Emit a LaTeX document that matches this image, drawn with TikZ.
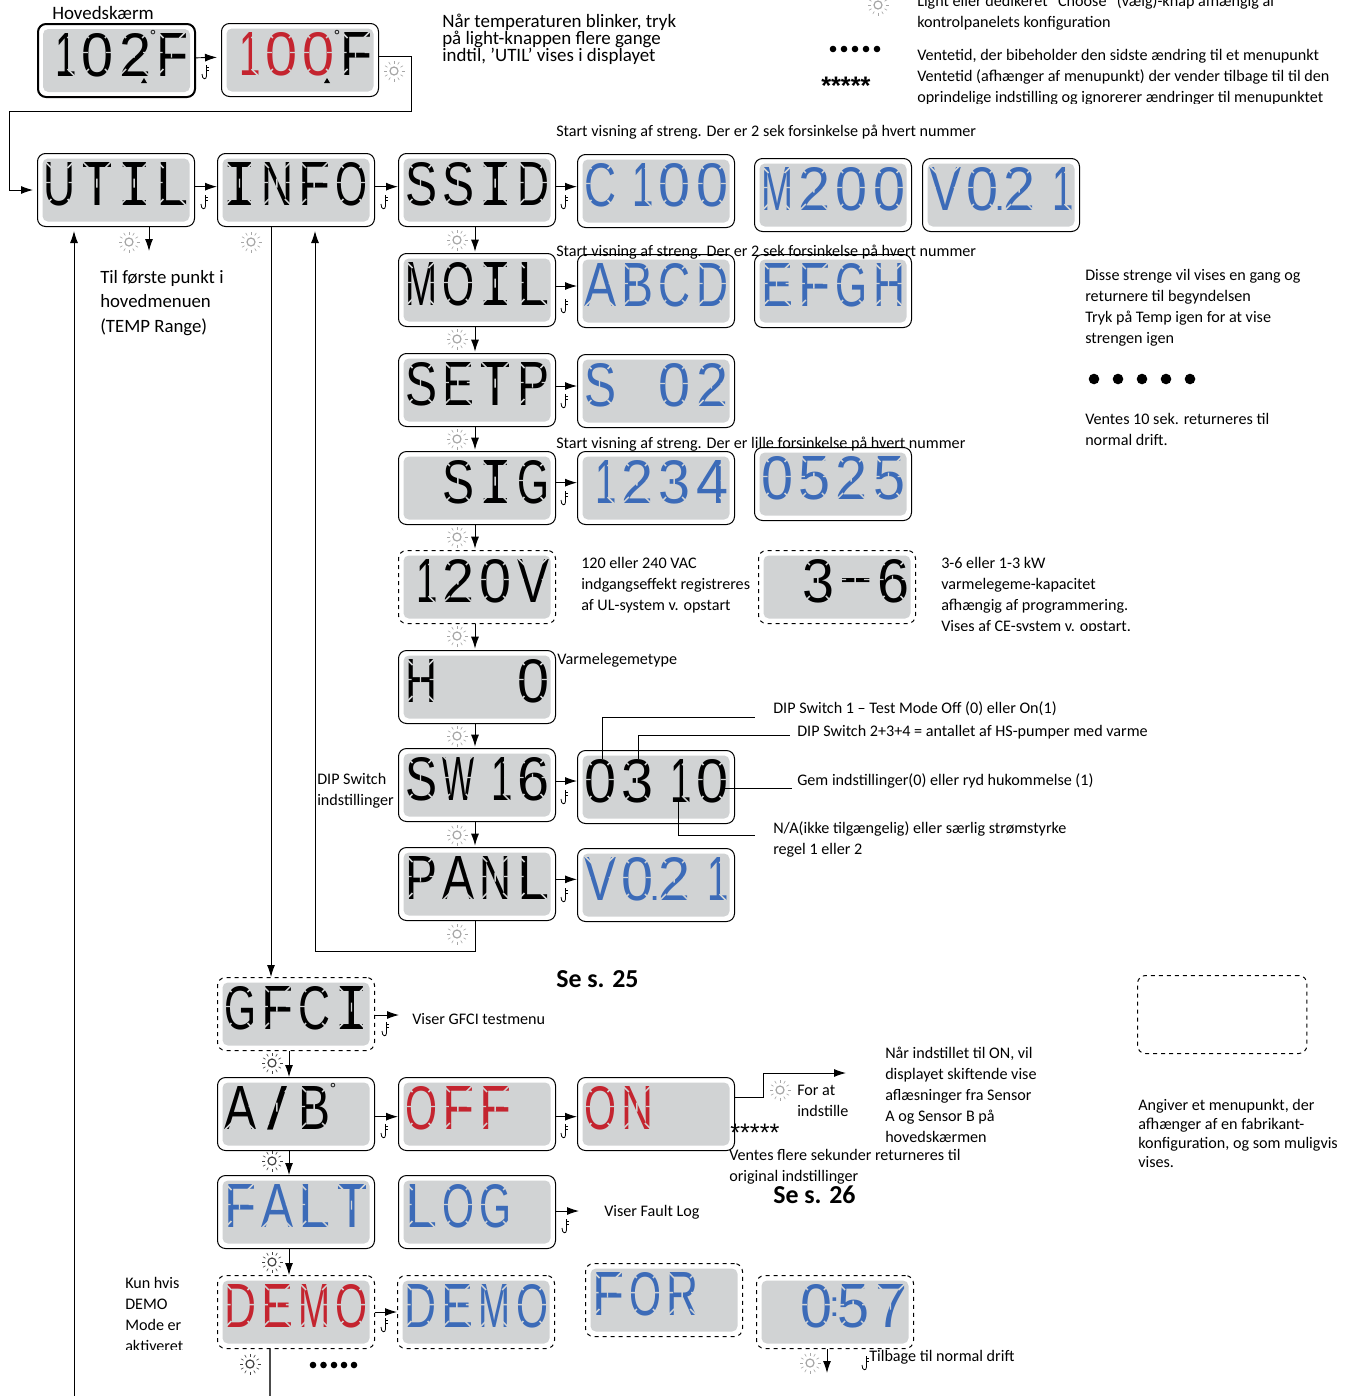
\documentclass[tikz,border=0pt]{standalone}
\usepackage{fontspec}
\setmainfont{Carlito}
\newfontfamily\lcdsans{Liberation Sans}
\newfontfamily\lcdmono{Liberation Mono}
\newfontfamily\starfont{Liberation Sans}[BoldFont={Liberation Sans Bold}]
\usetikzlibrary{arrows.meta}
\definecolor{lcdgrey}{HTML}{D1D3D4}
\definecolor{lcdred}{HTML}{C4242F}
\definecolor{lcdblue}{HTML}{3C6BB8}

% one character of a display
\makeatletter
\newcommand{\lcdcell}[1]{%
	\ifx#1*\kern28pt\else
	\ifx#1.\llap{\resizebox{8pt}{3pt}{\lcdsans.}\kern.5pt}\else
	\ifx#1:\llap{\raisebox{8pt}{\resizebox{8pt}{14pt}{\lcdsans:}}}\else
	\ifx#1I\hbox to21pt{\hss\resizebox{26pt}{32.25pt}{\lcdmono I}\hss}\kern7pt\else
	\ifx#1T\hbox to21pt{\hss\resizebox{24pt}{32.25pt}{\lcdmono T}\hss}\kern7pt\else
	\ifx#11\hbox to21pt{\hss\resizebox{16pt}{32.25pt}{\lcdsans 1}\kern-2pt}\kern7pt\else
	\ifx#1/\hbox to21pt{\hss\resizebox{15pt}{32.25pt}{\lcdsans /}\hss}\kern7pt\else
	\ifx#1-\hbox to21pt{\hss\raisebox{6pt}{\resizebox{28pt}{12pt}{\lcdsans -}}\hss}\kern7pt\else
	\hbox to21pt{\hss\resizebox{24pt}{32.25pt}{\lcdsans #1}\hss}\kern7pt%
	\fi\fi\fi\fi\fi\fi\fi\fi}
\def\lcd@next#1{\ifx#1\relax\else\lcdcell{#1}\expandafter\lcd@next\fi}
\newcommand{\lcdseq}[1]{\lcd@next#1\relax}
\makeatother
\newcommand{\lcdbox}[1]{\hbox to105pt{#1\hss}}
\newcommand{\lcd}[1]{\lcdbox{\lcdseq{#1}}}

% grey cuts that part the strokes of the characters into segments
\newcommand{\lcdcuts}[1]{
	\begin{scope}[shift={(#1.north west)}]
		\foreach \cellx in {8.5,45.83,83.17,120.5}{
			\draw[lcdcut,shift={(\cellx,9)}]
				(-1,-1) -- (6,6) (29,-1) -- (22,6)
				(-1,44) -- (6,37) (29,44) -- (22,37)
				(-1,20.5) -- (5,20.5) (23,20.5) -- (29,20.5)
				(14,16.5) -- (14,25.5);
		}
	\end{scope}
}
\newcommand{\lcdpanel}[4][]{
	\node[panel,#1] (#2) at (#3) {#4};
	\lcdcuts{#2}
}

\tikzset{
	panel/.style={
		draw,
		anchor=north west,
		rounded corners=6pt,
		line width=0.75pt,
		minimum width=117.75pt,
		minimum height=54.75pt,
		inner sep=0pt,
		fill=white,
		text height=32.25pt,
		text depth=9pt,
		path picture={
			\fill[lcdgrey,rounded corners=4pt]
				([shift={(5,-5)}]path picture bounding box.south west) rectangle
				([shift={(-5,5)}]path picture bounding box.north east);
		},
	},
	lcdcut/.style={draw=lcdgrey,line width=1.1pt},
	flow/.style={line width=0.7pt,-{Latex[length=9pt,width=6pt]}},
	wire/.style={line width=0.6pt},
	note/.style={
		anchor=north west,
		align=left,
		inner sep=0pt,
		yshift=-2.2pt,
		font=\fontsize{12.1}{15.75}\selectfont,
	},
	bignote/.style={
		note,
		font=\fontsize{14.2}{18.4}\selectfont,
	},
	headnote/.style={
		note,
		font=\fontsize{19.4}{22}\selectfont\bfseries,
	},
	degnote/.style={
		inner sep=0pt,
		font=\lcdsans\fontsize{12}{12}\selectfont,
	},
	lightbtn/.pic={
		\draw[pic actions,line width=0.9pt] (0,0) circle[radius=4];
		\foreach \a in {0,30,...,330}{
			\draw[pic actions,line width=0.45pt] (\a:7.5) -- (\a:10.5);
		}
	},
	tempbtn/.pic={
		\draw[line width=0.6pt] (0.5,-8) -- (0.5,3) .. controls (0.5,7) and (-4,7) .. (-4,1);
		\draw[line width=0.5pt] (0.5,-6) -- (2.5,-6) (0.5,-3) -- (2.5,-3);
	},
}

\begin{document}
\begin{tikzpicture}[x=0.75pt,y=-0.75pt]
\useasboundingbox (0,0) rectangle (1354,1396);

% main screen
\lcdpanel[line width=1.5pt]{main}{37,23}{\lcd{102F}}
\lcdpanel{setpoint}{221,23}{\lcdbox{\textcolor{lcdred}{\lcdseq{100}}\lcdseq{F}}}

% utility menu
\lcdpanel{util}{37,153}{\lcd{UTIL}}
\lcdpanel{info}{217,153}{\lcd{INFO}}
\lcdpanel{ssid}{398,153}{\lcd{SSID}}
\lcdpanel[text=lcdblue]{cnum}{577,154}{\lcd{C100}}
\lcdpanel[text=lcdblue]{mnum}{754,158}{\lcd{M200}}
\lcdpanel[text=lcdblue]{vnum}{922,158}{\lcd{V0.21}}
\lcdpanel{moil}{398,253}{\lcd{MOIL}}
\lcdpanel[text=lcdblue]{abcd}{577,254}{\lcd{ABCD}}
\lcdpanel[text=lcdblue]{efgh}{754,254}{\lcd{EFGH}}
\lcdpanel{setp}{398,353}{\lcd{SETP}}
\lcdpanel[text=lcdblue]{snum}{577,354}{\lcd{S*02}}
\lcdpanel{sig}{398,451}{\lcd{*SIG}}
\lcdpanel[text=lcdblue]{siga}{577,451}{\lcd{1234}}
\lcdpanel[text=lcdblue]{sigb}{754,447}{\lcd{0525}}
\lcdpanel[dashed]{volt}{398,550}{\lcd{120V}}
\lcdpanel[dashed]{power}{758,550}{\lcd{*3-6}}
\lcdpanel{heater}{398,650}{\lcd{H**0}}
\lcdpanel{sw}{398,748}{\lcd{SW16}}
\lcdpanel{swnum}{577,750}{\lcd{0310}}
\lcdpanel{panl}{398,847}{\lcd{PANL}}
\lcdpanel[text=lcdblue]{panlv}{577,848}{\lcd{V0.21}}

% test menus
\lcdpanel[dashed]{gfci}{217,977}{\lcd{GFCI}}
\lcdpanel{ab}{217,1077}{\lcd{A/B}}
\lcdpanel[text=lcdred]{off}{398,1077}{\lcd{OFF}}
\lcdpanel[text=lcdred]{on}{577,1077}{\lcd{ON}}
\lcdpanel[text=lcdblue]{falt}{217,1175}{\lcd{FALT}}
\lcdpanel[text=lcdblue]{log}{398,1175}{\lcd{LOG}}
\lcdpanel[dashed,text=lcdred]{demo}{217,1275}{\lcd{DEMO}}
\lcdpanel[dashed,text=lcdblue]{demob}{397,1275}{\lcd{DEMO}}
\lcdpanel[dashed,text=lcdblue]{demofor}{585,1263}{\lcd{FOR}}
\lcdpanel[dashed,text=lcdblue]{demotime}{756,1275}{\lcd{*0:57}}
\node[panel,dashed,minimum width=127pt,minimum height=58.5pt,path picture={}] (optional) at (1137,975) {};

% small marks on the displays
\node[degnote] (deg1) at (153,36) {°};
\node[degnote] (deg2) at (337,36) {°};
\node[degnote] (deg3) at (333,1089) {°};
\fill (141,83) -- (147,83) -- (144,78) -- cycle;
\fill (324,83) -- (330,83) -- (327,78) -- cycle;

% free ends
\coordinate (loopa) at (411,111);
\coordinate (loopb) at (9,111);
\coordinate (menuend) at (149,251);
\coordinate (utilback) at (74,1396);
\coordinate (gfciend) at (399,1015);
\coordinate (setbend) at (763,1097);
\coordinate (settop) at (763,1073);
\coordinate (setend) at (846,1073);
\coordinate (logend) at (579,1211);
\coordinate (demodown) at (270,1396);
\coordinate (timeend) at (827,1373);
\coordinate (returnb) at (315,951);
\coordinate (dipa) at (602,759);
\coordinate (dipb) at (755,717);
\coordinate (dipc) at (638,759);
\coordinate (dipd) at (790,735);
\coordinate (dipe) at (723,788);
\coordinate (dipf) at (792,788);
\coordinate (dipg) at (678,798);
\coordinate (diph) at (755,835);

% connectors
\draw[flow] ([yshift=2pt]main.east) -- ([yshift=2pt,xshift=-3pt]setpoint.west);
\draw[flow] ([yshift=3pt]setpoint.east) -| (loopa) -- (loopb) |- ([xshift=-3pt,yshift=0pt]util.west);
\draw[flow] ([yshift=2.5pt]util.east) -- ([yshift=2.5pt]info.west);
\draw[flow] ([yshift=2.5pt]info.east) -- ([yshift=2.5pt]ssid.west);
\draw[flow] ([yshift=2.5pt]ssid.east) -- ([yshift=2.5pt]ssid.east -| cnum.west);
\draw[flow] (util.south -| menuend) -- (menuend);
\draw[flow] (utilback) -- ([yshift=-3pt]util.south -| utilback);
\draw[flow] (info.south -| 271,0) -- (gfci.north -| 271,0);
\draw[flow] (panl.south -| 475,0) |- (returnb) -- ([yshift=-3pt]info.south -| returnb);
\foreach \upper/\lower in {ssid/moil,moil/setp,setp/sig,sig/volt,volt/heater,heater/sw,sw/panl}{
	\draw[flow] (\upper.south -| 475,0) -- ([yshift=1pt]\lower.north -| 475,0);
}
\draw[flow] ([yshift=3pt]moil.east) -- ([yshift=3pt]moil.east -| abcd.west);
\draw[flow] ([yshift=3pt]setp.east) -- ([yshift=3pt]setp.east -| snum.west);
\draw[flow] ([yshift=4pt]sig.east) -- ([yshift=4pt]siga.west);
\draw[flow] ([yshift=3pt]sw.east) -- ([yshift=3pt]sw.east -| swnum.west);
\draw[flow] ([yshift=3.5pt]panl.east) -- ([yshift=3.5pt]panl.east -| panlv.west);
\draw[flow] (gfci.east |- gfciend) -- (gfciend);
\draw[flow] (gfci.south -| 289,0) -- (ab.north -| 289,0);
\draw[flow] (ab.south -| 289,0) -- (falt.north -| 289,0);
\draw[flow] (falt.south -| 289,0) -- (demo.north -| 289,0);
\draw[flow] ([yshift=-2pt]ab.east) -- ([yshift=-2pt]off.west);
\draw[flow] ([yshift=-2pt]off.east) -- ([yshift=-2pt]on.west);
\draw[wire] (on.east |- setbend) -- (setbend) -- (settop);
\draw[flow] (settop) -- (setend);
\draw[flow] (log.east |- logend) -- (logend);
\draw[flow] (demo.east) -- (demob.west);
\draw[wire,line width=0.9pt,black!70] (demo.south -| demodown) -- (demodown);
\draw[flow] (demotime.south -| timeend) -- (timeend);

% lines to the switch texts
\draw[wire] (dipa) |- (dipb);
\draw[wire] (dipc) |- (dipd);
\draw[wire] (dipe) -- (dipf);
\draw[wire] (dipg) |- (diph);

% light and temperature buttons
\foreach \bx/\by in {394/71,129/242,251/242,457/240,457/339,457/439,457/537,457/636,457/736,457/835,457/934,780/1090,810/1363,878/5}{
	\pic[draw=gray!70] at (\bx,\by) {lightbtn};
}
\foreach \bx/\by in {272/1063,272/1161,272/1262,250/1364}{
	\pic[draw=black!75] at (\bx,\by) {lightbtn};
}
\foreach \bx/\by in {206/73,205/203,385/203,565/203,565/307,565/402,565/499,565/798,565/896,386/1030,385/1132,565/1132,566/1227,385/1326,866/1364}{
	\pic at (\bx,\by) {tempbtn};
}

% wait marks
\foreach \dotx in {833,844,855,866,877}{
	\fill (\dotx,49) circle[radius=3.3];
}
\foreach \dotx in {1094,1118,1142,1166,1190}{
	\fill (\dotx,379) circle[radius=5.3];
}
\foreach \dotx in {313,323.5,334,344,354}{
	\fill (\dotx,1365) circle[radius=3.3];
}
\node[note,font=\starfont\bfseries\fontsize{19}{19}\selectfont] (starsa) at (821,74) {*****};
\node[note,font=\starfont\fontsize{19}{19}\selectfont] (starsb) at (730,1121) {*****};

% texts
\node[bignote] (mainlabel) at (52,3) {Hovedskærm};
\node[bignote,font=\fontsize{14.2}{12.8}\selectfont] (blinktext) at (442,11) {Når temperaturen blinker, tryk\\på light-knappen flere gange\\indtil, ’UTIL’ vises i displayet};
\node[note] (legenda) at (917,-9) {Light eller dedikeret “Choose” (vælg)-knap afhængig af\\kontrolpanelets konfiguration};
\node[note] (legendb) at (917,46) {Ventetid, der bibeholder den sidste ændring til et menupunkt\\Ventetid (afhænger af menupunkt) der vender tilbage til  til den\\oprindelige indstilling og ignorerer ændringer til menupunktet};
\node[note] (starta) at (556,122) {Start visning af streng. Der er 2 sek forsinkelse på hvert nummer};
\node[note] (startb) at (556,242) {Start visning af streng. Der er 2 sek forsinkelse på hvert nummer};
\node[note] (startc) at (556,434) {Start visning af streng. Der er lille forsinkelse på hvert nummer};
\node[bignote,font=\fontsize{14.1}{18.4}\selectfont] (firstitem) at (100,267) {Til første punkt i\\hovedmenuen\\(TEMP Range)};
\node[note] (stringtext) at (1085,266) {Disse strenge vil vises en gang og\\returnere til begyndelsen\\Tryk på Temp igen for at vise\\strengen igen};
\node[note] (returntext) at (1085,410) {Ventes 10 sek. returneres til\\normal drift.};
\node[note] (volttext) at (581,554) {120 eller 240 VAC\\indgangseffekt registreres\\af UL-system v. opstart};
\node[note] (powertext) at (941,554) {3-6 eller 1-3  kW\\varmelegeme-kapacitet\\afhængig af programmering.\\Vises  af CE-system v. opstart.};
\node[note] (heatertext) at (557,650) {Varmelegemetype};
\node[note] (diptexta) at (773,698) {DIP Switch 1 – Test Mode Off (0) eller On(1)};
\node[note] (diptextb) at (797,722) {DIP Switch 2+3+4 = antallet af HS-pumper med varme};
\node[note] (diptextc) at (797,770) {Gem indstillinger(0) eller ryd hukommelse (1)};
\node[note] (diptextd) at (773,818) {N/A(ikke tilgængelig) eller særlig strømstyrke\\regel 1 eller 2};
\node[note] (dipname) at (317,770) {DIP Switch\\indstillinger};
\node[headnote] (pagea) at (556,967) {Se s. 25};
\node[note] (gfcitext) at (412,1010) {Viser GFCI testmenu};
\node[note] (ontext) at (885,1044) {Når indstillet til ON, vil\\displayet skiftende vise\\aflæsninger fra Sensor\\A og Sensor B på\\hovedskærmen};
\node[note] (settext) at (797,1082) {For at\\indstille};
\node[note] (waittext) at (729,1146) {Ventes flere sekunder returneres til\\original indstillinger};
\node[headnote] (pageb) at (773,1183) {Se s. 26};
\node[note,font=\fontsize{12.1}{14.3}\selectfont] (optionaltext) at (1138,1096) {Angiver et menupunkt, der\\afhænger af en fabrikant-\\konfiguration, og som muligvis\\vises.};
\node[note] (logtext) at (604,1202) {Viser Fault Log};
\node[note] (demotext) at (125,1274) {Kun hvis\\DEMO\\Mode er\\aktiveret};
\node[note] (normaltext) at (869,1347) {Tilbage til normal drift};

% cut off lines
\fill[white] (905,103.5) rectangle (1354,112);
\fill[white] (930,631) rectangle (1150,642);
\fill[white] (120,1350) rectangle (195,1362);
\end{tikzpicture}
\end{document}
